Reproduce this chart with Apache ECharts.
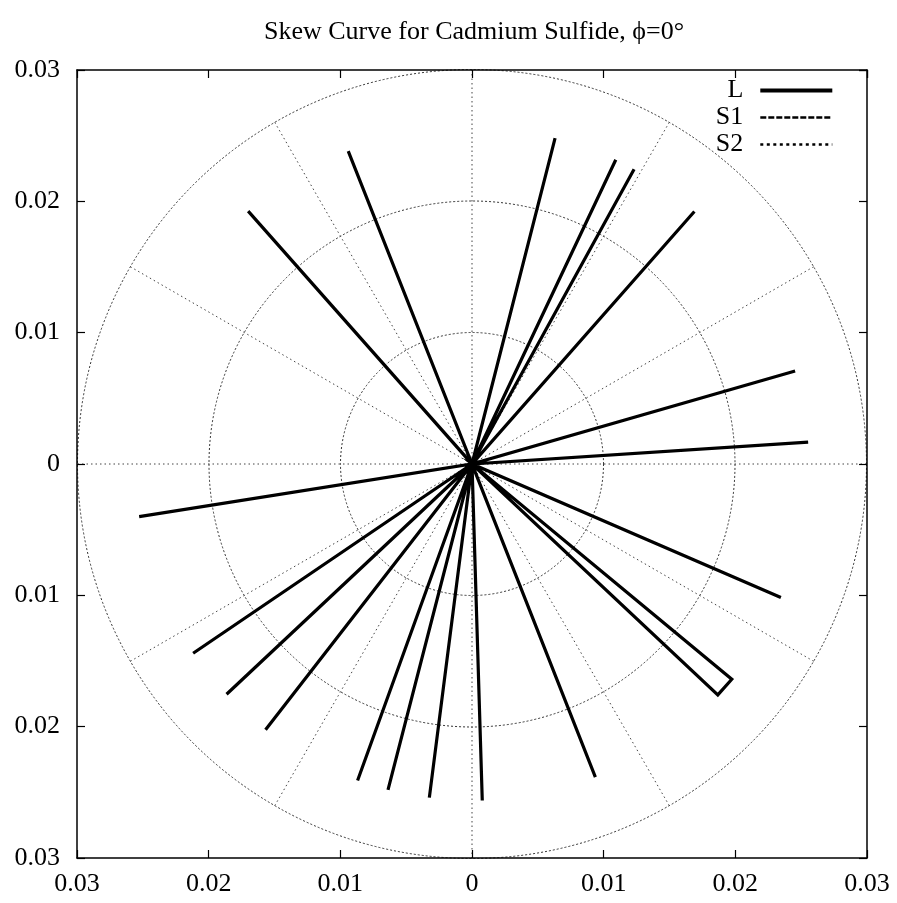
<!DOCTYPE html>
<html>
<head>
<meta charset="utf-8">
<script src="https://cdn.jsdelivr.net/npm/echarts@6/dist/echarts.min.js"></script>
<style>html,body{margin:0;padding:0;background:#fff;}#chart{width:897px;height:903px;}</style>
</head>
<body>
<div id="chart"></div>
<script>
// L curve: passes through origin between spokes
const lX = [0, 0.02553, 0, 0.02454, 0, 0.01689, 0, 0.01231, 0, 0.01092, 0, 0.00631, 0, -0.00940, 0, -0.01700, 0,
            -0.02528, 0, -0.02118, 0, -0.01864, 0, -0.01568, 0, -0.00869, 0, -0.00638, 0, -0.00324, 0, 0.00078, 0,
            0.00937, 0, 0.01867, 0.01973, 0, 0.02346, 0];
const lY = [0, 0.00167, 0, 0.00708, 0, 0.01923, 0, 0.02245, 0, 0.02317, 0, 0.02481, 0, 0.02382, 0, 0.01925, 0,
            -0.00401, 0, -0.01441, 0, -0.01753, 0, -0.02024, 0, -0.02410, 0, -0.02481, 0, -0.02540, 0, -0.02562, 0,
            -0.02384, 0, -0.01758, -0.01639, 0, -0.01017, 0];
const s1X = [], s1Y = [];
const s2X = [], s2Y = [];
const seriesNames = ['L', 'S1', 'S2'];
const axisTicks = [-0.03, -0.02, -0.01, 0, 0.01, 0.02, 0.03];
const gridRadii = [0.01, 0.02, 0.03];
const titleText = 'Skew Curve for Cadmium Sulfide, \u03D5=0\u00B0';

const font = '"Liberation Serif", "DejaVu Serif", serif';
const pairs = (xs, ys) => xs.map((x, i) => [x, ys[i]]);
const fmt = v => { const a = Math.abs(v); return a < 1e-9 ? '0' : a.toFixed(2); };

const chart = echarts.init(document.getElementById('chart'), null, {renderer: 'canvas'});
const axisMin = axisTicks[0], axisMax = axisTicks[axisTicks.length - 1];
const step = axisTicks[1] - axisTicks[0];
const baseAxis = {
  type: 'value', min: axisMin, max: axisMax, interval: step,
  axisLine: {show: true, onZero: false, lineStyle: {color: '#000', width: 1.5}},
  axisTick: {show: true, inside: true, length: 8, lineStyle: {color: '#000', width: 1.2}},
  splitLine: {show: false}
};
const lineStyles = [
  {color: '#000', width: 3.2, join: 'miter'},
  {color: '#000', width: 2.7, type: [6, 2]},
  {color: '#000', width: 2.4, type: [3, 3.5]}
];
const legendWidths = [4, 2.7, 2.4];
chart.setOption({
  animation: false,
  backgroundColor: '#fff',
  title: {
    text: titleText, left: 259, top: 14,
    textStyle: {fontFamily: font, fontSize: 26, fontWeight: 'normal', color: '#000'}
  },
  grid: {left: 77, right: 30, top: 70, bottom: 45},
  xAxis: [
    Object.assign({}, baseAxis, {position: 'bottom',
      axisLabel: {show: true, margin: 13, formatter: fmt, fontFamily: font, fontSize: 26, color: '#000'}}),
    Object.assign({}, baseAxis, {position: 'top', axisLabel: {show: false}})
  ],
  yAxis: [
    Object.assign({}, baseAxis, {position: 'left',
      axisLabel: {show: true, margin: 17, formatter: fmt, fontFamily: font, fontSize: 26, color: '#000'}}),
    Object.assign({}, baseAxis, {position: 'right', axisLabel: {show: false}})
  ],
  polar: {center: [472, 464], radius: 394.5},
  radiusAxis: {
    type: 'value', min: 0, max: gridRadii[gridRadii.length - 1], interval: gridRadii[0],
    axisLine: {show: false}, axisTick: {show: false}, axisLabel: {show: false},
    splitLine: {show: true, lineStyle: {color: '#333', width: 1, type: [2, 2]}}
  },
  angleAxis: {
    type: 'value', min: 0, max: 360, interval: 30, startAngle: 0,
    axisLine: {show: false}, axisTick: {show: false}, axisLabel: {show: false},
    splitLine: {show: true, lineStyle: {color: '#444', width: 1, type: [1.5, 3]}}
  },
  legend: {
    data: seriesNames.map((n, i) => ({name: n,
      lineStyle: Object.assign({}, lineStyles[i], {width: legendWidths[i]})})),
    orient: 'vertical', right: 62.7, top: 77, align: 'right', padding: 0,
    itemWidth: 72, itemHeight: 14, itemGap: 0,
    textStyle: {fontFamily: font, fontSize: 26, lineHeight: 27, color: '#000', padding: [0, 12, 0, 0]},
    itemStyle: {color: 'rgba(0,0,0,0)', borderWidth: 0, opacity: 0},
    inactiveColor: '#000'
  },
  series: seriesNames.map((n, i) => ({
    name: n, type: 'line', data: [pairs(lX, lY), pairs(s1X, s1Y), pairs(s2X, s2Y)][i],
    symbol: 'none', showSymbol: false, lineStyle: lineStyles[i], itemStyle: {color: '#000'}, z: 5
  }))
});
</script>
</body>
</html>
